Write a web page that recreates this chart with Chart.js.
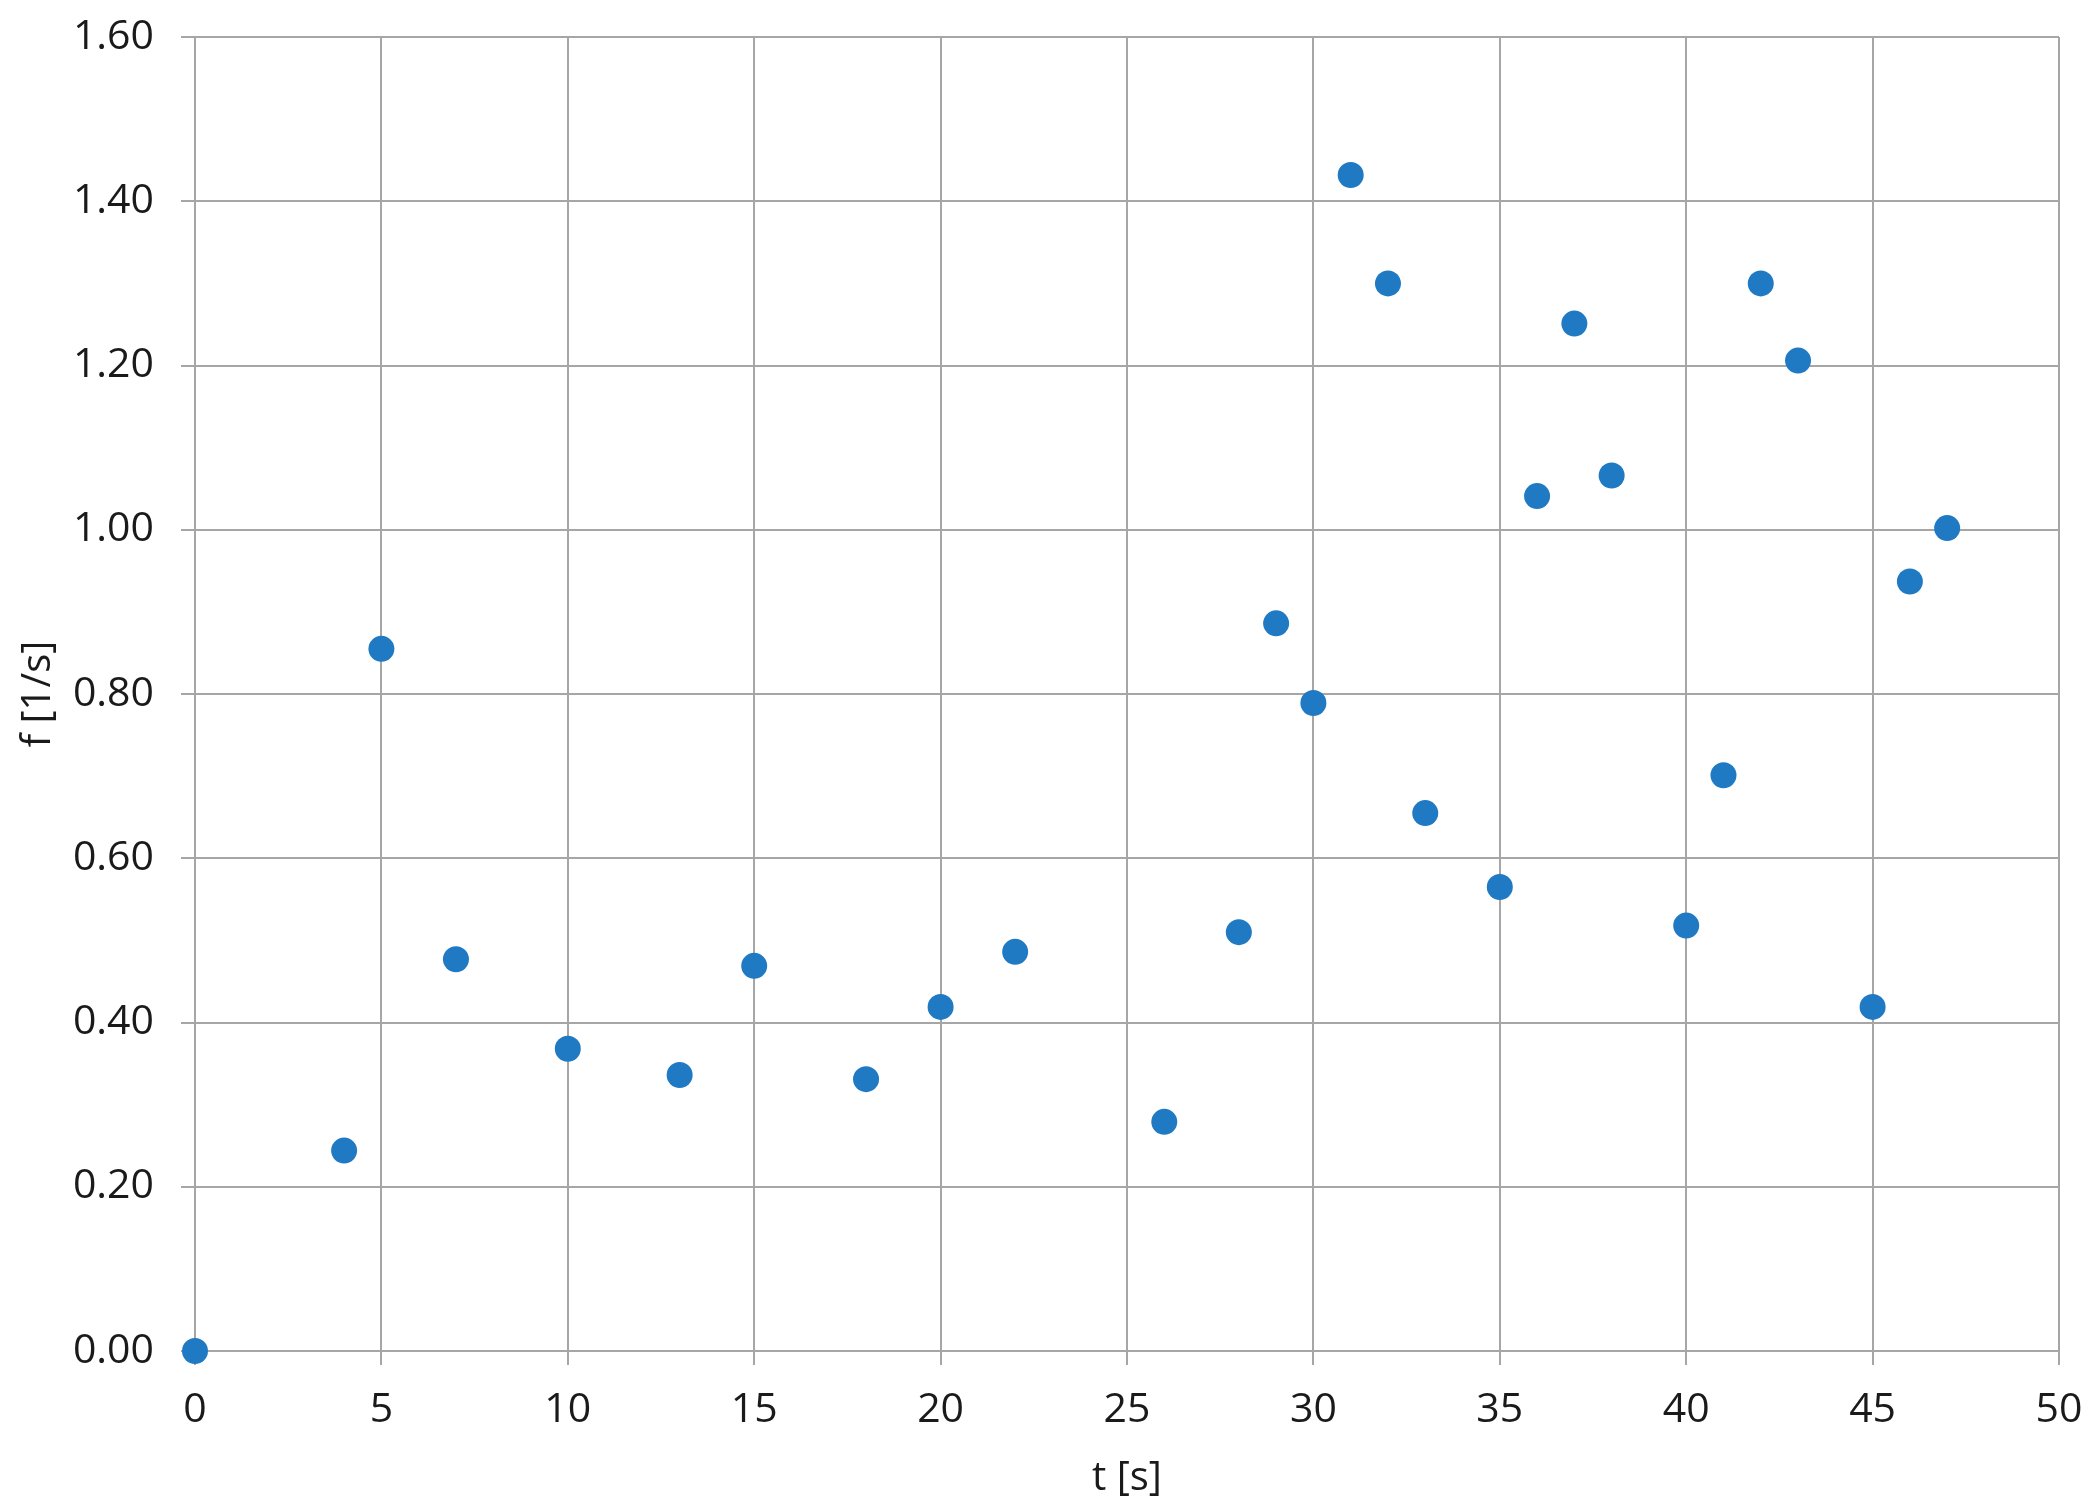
<!DOCTYPE html>
<html lang="en">
<head>
  <meta charset="UTF-8">
  <title>f over t</title>
  <style>
    html, body {
      margin: 0;
      padding: 0;
      background: white;
    }
    #wrap {
      width: 2095px;
      height: 1509px;
    }
  </style>
  <script src="https://cdn.jsdelivr.net/npm/chart.js"></script>
</head>
<body>
  <div id="wrap">
    <canvas id="freqChart" width="2095" height="1509"></canvas>
  </div>

<script>
  // time in seconds
  const times = [0, 4, 5, 7, 10, 13, 15, 18, 20, 22, 26, 28, 29, 30, 31, 32, 33, 35, 36, 37, 38, 40, 41, 42, 43, 45, 46, 47];
  // frequency in 1/s
  const freqs = [0.00, 0.244, 0.855, 0.477, 0.368, 0.336, 0.469, 0.331, 0.419, 0.486, 0.279, 0.510, 0.886, 0.789,
                 1.432, 1.300, 0.655, 0.565, 1.041, 1.251, 1.066, 0.518, 0.701, 1.300, 1.206, 0.419, 0.937, 1.002];

  const xTitle = 't [s]';
  const yTitle = 'f [1/s]';

  const fontFam = "'Open Sans', sans-serif";
  const gridCol = '#a6a6a6';

  const points = times.map((t, i) => ({ x: t, y: freqs[i] }));

  const ctx = document.getElementById('freqChart').getContext('2d');
  const chart = new Chart(ctx, {
    type: 'scatter',
    data: {
      datasets: [{
        label: 'f',
        data: points,
        backgroundColor: '#1f7ac3',
        borderColor: '#1f7ac3',
        borderWidth: 0,
        pointRadius: 13,
        pointHoverRadius: 13,
        clip: false
      }]
    },
    options: {
      responsive: false,
      animation: false,
      layout: { padding: { top: 37, right: 36, left: 0, bottom: 0 } },
      plugins: {
        legend: { display: false },
        tooltip: { enabled: false }
      },
      scales: {
        x: {
          type: 'linear',
          min: 0,
          max: 50,
          afterFit: (s) => {
            s.height = 158;
            s.paddingLeft = 0;
            s.paddingRight = 0;
          },
          ticks: {
            stepSize: 5,
            color: '#1a1a1a',
            padding: 21,
            maxRotation: 0,
            font: { family: fontFam, size: 41 }
          },
          grid: { color: gridCol, lineWidth: 2, tickLength: 14 },
          border: { color: gridCol, width: 2 },
          title: {
            display: true,
            text: xTitle,
            color: '#1a1a1a',
            font: { family: fontFam, size: 40 },
            padding: { top: 6, bottom: 6 }
          }
        },
        y: {
          min: 0,
          max: 1.6,
          afterFit: (s) => {
            s.width = 195;
            s.paddingTop = 0;
            s.paddingBottom = 0;
          },
          ticks: {
            stepSize: 0.2,
            color: '#1a1a1a',
            padding: 27,
            font: { family: fontFam, size: 41 },
            callback: (v) => v.toFixed(2)
          },
          grid: { color: gridCol, lineWidth: 2, tickLength: 14 },
          border: { color: gridCol, width: 2 },
          title: {
            display: true,
            text: yTitle,
            color: '#1a1a1a',
            font: { family: fontFam, size: 40 },
            padding: { top: 15, bottom: 15 }
          }
        }
      }
    }
  });
</script>
</body>
</html>
